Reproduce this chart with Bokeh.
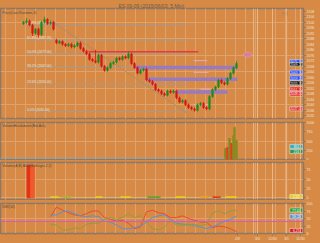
from bokeh.plotting import figure
from bokeh.layouts import column
from bokeh.models import (Range1d, SingleIntervalTicker, FixedTicker, Span, Label,
                          ColumnDataSource, Grid, Ellipse)
from bokeh.embed import file_html
from bokeh.resources import INLINE
from bokeh.core.properties import value

# ---------------- data ----------------
title_text = "ES 09-09  (2015/06/03, 5 Min)"
opens = [2099, 2100, 2101, 2098, 2092, 2095, 2091, 2100, 2102, 2099, 2100, 2087, 2085, 2086,
         2084, 2083, 2084, 2082, 2083, 2085, 2081, 2079, 2077, 2073, 2072, 2071, 2076, 2068,
         2065, 2067, 2070, 2071, 2074, 2073, 2075, 2074, 2077, 2070, 2067, 2063, 2065, 2066,
         2058, 2057, 2055, 2051, 2050, 2048, 2047, 2050, 2049, 2050, 2045, 2042, 2043, 2040,
         2038, 2037, 2036, 2040, 2041, 2038, 2037, 2046, 2051, 2053, 2058, 2056, 2055, 2059,
         2063, 2067]
closes = [2100, 2101, 2098, 2092, 2095, 2091, 2100, 2102, 2099, 2100, 2095, 2085, 2086, 2084,
          2083, 2084, 2082, 2083, 2085, 2081, 2079, 2077, 2073, 2072, 2071, 2076, 2068, 2065,
          2067, 2070, 2071, 2074, 2073, 2075, 2074, 2077, 2070, 2067, 2063, 2065, 2066, 2058,
          2057, 2055, 2051, 2050, 2048, 2047, 2050, 2049, 2050, 2045, 2042, 2043, 2040, 2038,
          2037, 2036, 2040, 2041, 2038, 2037, 2046, 2051, 2053, 2058, 2056, 2055, 2059, 2063,
          2067, 2070]
highs = [2101, 2103, 2102, 2099, 2096, 2096, 2101, 2104, 2103, 2101, 2101, 2088, 2087, 2087,
         2085, 2085, 2085, 2084, 2086, 2086, 2082, 2080, 2078, 2074, 2080, 2077, 2077, 2069,
         2068, 2071, 2072, 2075, 2075, 2076, 2076, 2079, 2078, 2071, 2068, 2066, 2067, 2067,
         2059, 2058, 2056, 2052, 2051, 2049, 2051, 2051, 2051, 2051, 2046, 2044, 2044, 2041,
         2039, 2038, 2041, 2042, 2042, 2039, 2047, 2052, 2054, 2059, 2059, 2057, 2060, 2064,
         2068, 2072]
lows = [2098, 2099, 2097, 2090, 2091, 2089, 2090, 2099, 2098, 2098, 2094, 2084, 2084, 2083,
        2082, 2082, 2081, 2081, 2082, 2080, 2078, 2076, 2072, 2071, 2070, 2070, 2067, 2064,
        2064, 2066, 2069, 2070, 2072, 2072, 2073, 2073, 2069, 2066, 2062, 2062, 2064, 2057,
        2056, 2054, 2050, 2049, 2047, 2046, 2046, 2048, 2048, 2044, 2041, 2041, 2039, 2037,
        2036, 2035, 2035, 2039, 2037, 2036, 2036, 2045, 2050, 2052, 2055, 2054, 2054, 2058,
        2062, 2066]
first_bar = 6

fib_names = ["78.6% (2097.75)", "61.8% (2087.25)", "50.0% (2077.00)", "38.2% (2067.00)",
             "23.6% (2055.00)", "0.0% (2035.00)"]
fib_levels = [2097.9, 2087.1, 2077.1, 2067.1, 2055.0, 2035.0]
fib_start, fib_end = 6.7, 61.0

red_level, red_start, red_end = 2078.6, 27.7, 64.3
band_levels = [2067.1, 2058.6, 2049.3]
band_start = [43.3, 47.3, 56.7]
band_end = [77.3, 77.3, 74.0]
short_levels = [2072.1, 2063.6, 2051.4, 2040.0]
short_start = [62.7, 62.7, 65.0, 62.7]
short_end = [67.3, 67.7, 68.3, 68.3]
trend_x = [15.0, 60.7]
trend_y = [2101.4, 2033.6]
marker_x, marker_y = 80.7, 2076.4

price_tags = [2071.4, 2069.3, 2063.6, 2059.3, 2055.7, 2051.4, 2047.9, 2037.1]
price_tag_text = ["2071.50", "2069.25", "2063.50", "2059.25", "2055.75", "2051.50", "2048.00", "2037.00"]
price_tag_colors = ["#1a3cf0", "#101010", "#1a3cf0", "#1a3cf0", "#101010", "#e01818", "#e01818", "#e01818"]

vol_x = [73.3, 74.0, 74.67, 75.33, 76.0, 76.33, 77.0]
vol_v = [300, 324, 568, 432, 649, 865, 514]
vol_c = ["#8a8a22", "#e04020", "#8a8a22", "#e04020", "#8a8a22", "#8a8a22", "#8a8a22"]
vol_tags = [351, 216]
vol_tag_text = ["351", "216"]
vol_tag_colors = ["#38b0b8", "#2a9a5a"]

ind_bar_x = [7.8, 9.0]
ind_bar_v = [87, 86]
ind_bar_c = ["#e3321a", "#f05a28"]
ind_seg_x0 = [15.0, 19.0, 30.0, 38.3, 47.3, 56.7, 65.0, 69.0, 73.3]
ind_seg_x1 = [17.7, 21.7, 32.3, 41.7, 51.7, 60.0, 67.7, 71.7, 77.0]
ind_seg_v = [1.5, 1.5, 1.5, 1.5, 1.5, 1.5, 1.5, 1.5, 1.5]
ind_seg_c = ["#e8cc20", "#a8b828", "#e8cc20", "#e8cc20", "#6aa030", "#e8cc20", "#f0a020", "#e04020", "#e8cc20"]

osc_x = list(range(15, 79, 2))
osc_red = [56, 88, 78, 69, 62, 59, 66, 75, 75, 53, 47, 41, 44, 34, 16, 22, 72, 78, 69, 66,
           53, 53, 59, 50, 44, 38, 38, 19, 25, 22, 16, 6]
osc_blue = [62, 62, 72, 75, 66, 59, 56, 59, 56, 41, 38, 28, 16, 16, 19, 25, 38, 53, 59, 62,
            47, 34, 31, 31, 25, 22, 16, 22, 31, 41, 47, 59]
osc_green = [31, 28, 12, 12, 19, 16, 31, 34, 34, 47, 53, 47, 53, 66, 53, 59, 38, 16, 12, 22,
             44, 28, 28, 28, 31, 25, 31, 69, 75, 66, 75, 78]
osc_ref = 40

date_tick_x = [77.3, 84.0, 89.0, 93.7, 98.3]
date_tick_labels = ["2/3", "3/4", "11/30", "3/1", "11/30"]
extra_lines_x = [82.7, 84.0, 89.0, 93.7, 98.3]

# ---------------- styling ----------------
BG = "#d68a45"
GRID = "#e0a26c"
BRIGHT = "#e9b88a"
BORDER = "#8a7868"
AXTXT = "#f0e2d2"
FONT = "Liberation Sans"
X0, X1 = -5 / 3, 298 / 3
x_range = Range1d(X0, X1)


def make_fig(h, y0, y1, top, bottom, yint, gint, axis_below=False):
    p = figure(width=320, height=h, x_range=x_range, y_range=Range1d(y0, y1),
               output_backend="svg", toolbar_location=None, y_axis_location="right",
               x_axis_location="below" if axis_below else None,
               min_border_left=0, min_border_right=17, min_border_top=top,
               min_border_bottom=bottom, background_fill_color=BG, border_fill_color=BG,
               outline_line_color=BORDER, outline_line_width=1.5)
    ya = p.yaxis[0]
    ya.ticker = SingleIntervalTicker(interval=yint)
    ya.major_label_text_font_size = "3.5px"
    ya.major_label_text_color = AXTXT
    ya.major_label_text_font = FONT
    ya.major_tick_out = 2
    ya.major_tick_in = 0
    ya.minor_tick_out = 0
    ya.minor_tick_in = 0
    ya.major_tick_line_color = BORDER
    ya.axis_line_color = BORDER
    ya.major_label_standoff = 1
    p.ygrid.ticker = SingleIntervalTicker(interval=gint)
    p.ygrid.grid_line_color = GRID
    p.ygrid.grid_line_width = 1
    if axis_below:
        p.xgrid.visible = False
    p.add_layout(Grid(dimension=0, ticker=SingleIntervalTicker(interval=10 / 3),
                      grid_line_color=GRID, grid_line_width=1))
    for xv in extra_lines_x:
        p.add_layout(Span(location=xv, dimension="height", line_color=BRIGHT, line_width=1))
    return p


def pane_title(p, text, y):
    p.add_layout(Label(x=X0 + 0.6, y=y, text=text, text_font_size="3.5px",
                       text_color="#5a4a3a", text_font=FONT, text_baseline="top"))


def tags(p, ys, texts, colors):
    # current-value tags, drawn at the right edge of the pane
    n = len(ys)
    xc = [X1 - 2.4] * n
    p.rect(x=xc, y=ys, width=13, height=4.2, width_units="screen", height_units="screen",
           fill_color=colors, line_color="#f2f2f2", line_width=0.5)
    p.text(x=xc, y=ys, text=texts, text_font_size="3.4px", text_color="white",
           text_font=value(FONT), text_align="center", text_baseline="middle")


# ---------------- price pane ----------------
p1 = make_fig(120, 2030, 2110, 0, 2, 4, 12)
p1.title.text = title_text
p1.title.text_font_size = "5px"
p1.title.text_color = "#6a5a4a"
p1.title.text_font = FONT
p1.title.align = "center"
p1.title.text_font_style = "normal"
p1.title.standoff = 0
p1.title.offset = 0

for lv, nm in zip(fib_levels, fib_names):
    p1.segment(x0=fib_start, x1=fib_end, y0=lv, y1=lv, line_color="#a89a8c", line_width=1)
p1.text(x=[fib_start + 0.5] * len(fib_levels), y=fib_levels, text=fib_names,
        text_font_size="3.3px", text_color="#efe4d8", text_font=value(FONT),
        text_baseline="bottom")
p1.line(x=trend_x, y=trend_y, line_color="#9a8a7a", line_dash="2 1", line_width=1)
p1.segment(x0=red_start, x1=red_end, y0=red_level, y1=red_level, line_color="#e83a3a",
           line_width=1.5)
p1.segment(x0=band_start, x1=band_end, y0=band_levels, y1=band_levels, line_color="#9078cc",
           line_width=3.5, line_alpha=0.9)
p1.segment(x0=short_start, x1=short_end, y0=short_levels, y1=short_levels,
           line_color="#e6a8c4", line_width=1)

xs = [first_bar + i for i in range(len(closes))]
cols = ["#1a8c22" if c >= o else "#d41818" for o, c in zip(opens, closes)]
src = ColumnDataSource(dict(x=xs, o=opens, c=closes, h=highs, l=lows, col=cols))
p1.segment(x0="x", x1="x", y0="l", y1="h", line_color="col", line_width=0.8, source=src)
p1.vbar(x="x", width=0.55, top="o", bottom="c", fill_color="col", line_color="col",
        line_width=0.5, source=src)
p1.add_glyph(ColumnDataSource(dict(x=[marker_x], y=[marker_y])),
             Ellipse(x="x", y="y", width=2.7, height=3.6, fill_color="#d87aa6",
                     fill_alpha=0.85, line_color="#e8a0c0", line_width=0.5))
p1.add_layout(Label(x=92.3, y=2106.5, text="\u25b7|", text_font_size="5px",
                    text_color="#8a7a6a", text_baseline="middle"))
pane_title(p1, "Price(Last,Random,3)", 2108)
tags(p1, price_tags, price_tag_text, price_tag_colors)

# ---------------- volume pane ----------------
p2 = make_fig(40, 0, 1000, 2, 1, 250, 500)
p2.vbar(x=vol_x, width=0.45, top=vol_v, bottom=0, fill_color=vol_c, line_color=vol_c)
p2.segment(x0=X0, x1=73.0, y0=40, y1=40, line_color="#8fa8a8", line_width=1)
pane_title(p2, "VolumeBreakdown(Bid,Ask)", 960)
tags(p2, vol_tags, vol_tag_text, vol_tag_colors)

# ---------------- indicator pane ----------------
p3 = make_fig(40, -5, 95, 2, 1, 25, 50)
p3.vbar(x=ind_bar_x, width=1.2, top=ind_bar_v, bottom=0, fill_color=ind_bar_c,
        line_color=ind_bar_c)
p3.segment(x0=14.0, x1=77.0, y0=0.8, y1=0.8, line_color="#d8b870", line_width=0.8)
p3.segment(x0=ind_seg_x0, x1=ind_seg_x1, y0=ind_seg_v, y1=ind_seg_v, line_color=ind_seg_c,
           line_width=1.6)
pane_title(p3, "Volume(A,B) ADX(Bollinger,2,2)", 91)
tags(p3, [3], ["1.52"], ["#e8cc20"])

# ---------------- oscillator pane ----------------
p4 = make_fig(43, 0, 100, 3, 0, 25, 50, axis_below=True)
p4.add_layout(Span(location=osc_ref, dimension="width", line_color="#d45ac8", line_width=1))
p4.line(osc_x, osc_red, line_color="#ec4a2a", line_width=1)
p4.line(osc_x, osc_blue, line_color="#5a90d8", line_width=1)
p4.line(osc_x, osc_green, line_color="#8aa232", line_width=1)
pane_title(p4, "DMI(14)", 96)
tags(p4, [osc_green[-1], osc_blue[-1] - 3, osc_red[-1] + 4],
     ["77.63", "59.11", "6.25"], ["#2a9a3a", "#5a90d8", "#e01818"])
xa = p4.xaxis[0]
xa.ticker = FixedTicker(ticks=date_tick_x,
                        minor_ticks=[X0 + 5 / 3 + i * 10 / 3 for i in range(30)])
xa.major_label_overrides = {k: v for k, v in zip(date_tick_x, date_tick_labels)}
xa.major_label_text_font_size = "3.5px"
xa.major_label_text_color = AXTXT
xa.major_label_text_font = FONT
xa.major_label_standoff = 1
xa.major_tick_out = 2
xa.major_tick_in = 0
xa.minor_tick_out = 1
xa.minor_tick_in = 0
xa.axis_line_color = BORDER
xa.major_tick_line_color = BORDER
xa.minor_tick_line_color = BORDER

layout = column(p1, p2, p3, p4, spacing=0)
layout.styles = {"background-color": BG}
open("out.html", "w").write(file_html(layout, INLINE))
